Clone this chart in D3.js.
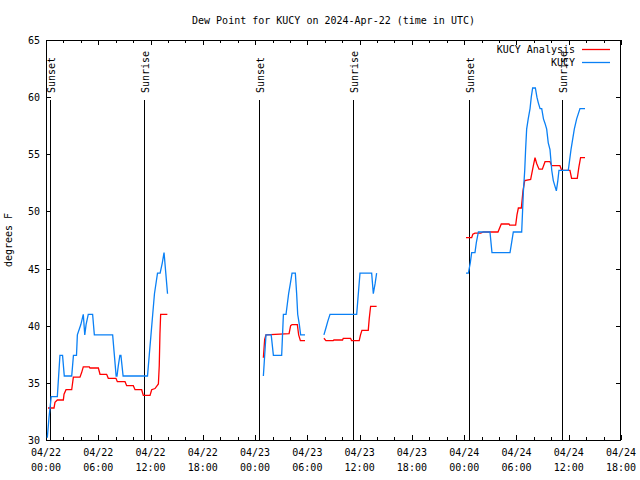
<!DOCTYPE html>
<html><head><meta charset="utf-8">
<script src="https://cdn.jsdelivr.net/npm/d3@7"></script>
<style>
body{margin:0;background:#fff}
text{font-family:"DejaVu Sans Mono",monospace;font-size:10px;fill:#000}
</style>
</head><body><svg id="c" width="640" height="480"></svg>
<script>
const title = "Dew Point for KUCY on 2024-Apr-22 (time in UTC)";
const yLabel = "degrees F";
const seriesNames = ["KUCY Analysis", "KUCY"];
const seriesColors = ["#ff0000", "#0a80f5"];
const startTime = "2024-04-22T00:00:00Z";
const endHours = 66;
const yDomain = [30, 65];
const yTicks = [30, 35, 40, 45, 50, 55, 60, 65];
const xMajorHours = [0, 6, 12, 18, 24, 30, 36, 42, 48, 54, 60, 66];
const sunHours = [0.47, 11.23, 24.48, 35.22, 48.5, 59.2];
const sunLabels = ["Sunset", "Sunrise", "Sunset", "Sunrise", "Sunset", "Sunrise"];

// KUCY Analysis (hours since start, value F); null = gap
const analysisHours = [
 0.23,0.92,1.03,1.3,1.99,2.07,2.3,2.95,3.14,3.9,4.09,4.28,4.97,5.05,6.01,6.2,6.96,7.15,8.03,8.19,9.07,9.26,10.02,10.22,10.98,11.17,11.94,12.13,12.51,12.9,13.0,13.08,13.16,13.93,
 14.0,
 24.95,25.1,25.25,27.9,28.08,28.24,28.85,29.0,29.2,29.73,
 30.5,
 31.9,32.13,32.97,33.05,34.04,34.12,34.96,35.07,35.95,36.1,36.26,36.99,37.1,37.26,37.95,
 40.0,
 48.21,48.86,48.99,49.24,49.9,50.2,51.88,52.26,53.14,53.22,53.91,54.06,54.22,54.56,54.75,54.95,55.63,55.94,56.13,56.32,56.59,56.97,57.28,57.85,58.04,58.99,59.19,60.14,60.33,60.98,61.17,61.36,61.87];
const analysisValues = [
 32.8,32.8,33.3,33.5,33.5,34.0,34.4,34.4,35.5,35.5,35.9,36.4,36.4,36.3,36.3,35.75,35.75,35.4,35.4,35.1,35.1,34.75,34.75,34.4,34.4,33.9,33.9,34.4,34.5,34.9,36.5,39.3,41.0,41.0,
 null,
 37.2,38.8,39.2,39.3,40.0,40.1,40.1,39.2,38.7,38.7,
 null,
 38.9,38.7,38.7,38.75,38.75,38.9,38.9,38.7,38.7,39.2,39.6,39.6,40.6,41.7,41.7,
 null,
 47.7,47.7,48.0,48.1,48.1,48.2,48.2,48.9,48.9,48.8,48.8,49.7,50.3,50.3,51.8,52.7,52.8,54.0,54.7,54.2,53.7,53.7,54.35,54.35,54.0,54.0,53.6,53.6,52.9,52.9,53.9,54.7,54.7];

// KUCY observations
const kucyHours = [
 0.15,0.35,0.6,1.3,1.45,1.6,1.9,2.1,2.3,2.95,3.15,3.5,3.6,4.0,4.28,4.45,4.6,4.85,5.35,5.55,7.65,7.85,8.05,8.15,8.3,8.48,8.6,8.85,11.65,11.85,12.05,12.25,12.45,12.8,13.1,13.35,13.55,13.75,13.95,
 14.0,
 24.95,25.1,25.25,25.85,26.1,27.05,27.15,27.25,27.55,27.7,27.85,28.05,28.24,28.62,28.77,28.89,29.08,29.23,29.73,
 30.5,
 31.9,32.13,32.35,32.6,35.66,35.85,36.04,37.38,37.57,37.78,37.95,
 40.0,
 48.21,48.48,48.7,48.86,49.24,49.4,49.63,50.96,51.19,53.26,53.45,53.64,54.6,54.7,54.8,54.95,55.05,55.17,55.35,55.56,55.7,55.86,56.17,56.35,56.51,56.71,56.9,57.1,57.28,57.47,57.65,57.85,58.05,58.23,58.58,58.75,58.88,59.95,60.26,60.45,60.64,60.91,61.29,61.87];
const kucyValues = [
 30.2,32.0,33.8,33.8,35.6,37.4,37.4,35.6,35.6,35.6,37.4,37.4,39.2,40.1,41.0,39.2,40.1,41.0,41.0,39.2,39.2,37.4,35.6,35.6,36.5,37.4,37.4,35.6,35.6,37.4,39.2,41.0,42.8,44.6,44.6,45.5,46.4,44.6,42.8,
 null,
 35.6,37.4,39.2,39.2,37.4,37.4,39.2,41.0,41.0,41.9,42.8,43.7,44.6,44.6,42.8,41.0,40.1,39.2,39.2,
 null,
 39.2,39.8,40.4,41.0,41.0,42.8,44.6,44.6,42.8,43.7,44.6,
 null,
 44.6,44.6,45.5,46.4,46.4,47.3,48.2,48.2,46.4,46.4,47.3,48.2,48.2,50.0,51.8,53.6,55.4,57.2,58.1,59.0,60.0,60.8,60.8,60.0,59.5,59.0,59.0,58.1,57.7,57.2,56.0,55.4,53.6,52.7,51.8,52.7,53.6,53.6,55.4,56.3,57.2,58.1,59.0,59.0];

const svg = d3.select("#c");
const t0 = new Date(startTime);
const hToDate = h => new Date(t0.getTime() + h * 3600e3);
const x = d3.scaleUtc().domain([t0, hToDate(endHours)]).range([46, 621]);
const y = d3.scaleLinear().domain(yDomain).range([440, 40]);
const L = 46, R = 621, T = 40, B = 440;

// title
svg.append("text").attr("x", (L + R) / 2).attr("y", 24).attr("text-anchor", "middle").text(title);
// y label
svg.append("text").attr("transform", "translate(12,240) rotate(-90)").attr("text-anchor", "middle").text(yLabel);

const g = svg.append("g").attr("shape-rendering", "crispEdges");
// x ticks (major every 6h, minor every 2h), bottom and top, inward
const minorHours = d3.range(0, endHours + 1, 2).filter(h => h % 6 !== 0);
xMajorHours.forEach(h => {
  const xx = Math.round(x(hToDate(h))) + 0.5;
  g.append("line").attr("x1", xx).attr("x2", xx).attr("y1", B).attr("y2", B - 5).attr("stroke", "#000");
  g.append("line").attr("x1", xx).attr("x2", xx).attr("y1", T).attr("y2", T + 5).attr("stroke", "#000");
  const d = hToDate(h);
  svg.append("text").attr("x", x(d)).attr("y", 456).attr("text-anchor", "middle").text(d3.utcFormat("%m/%d")(d));
  svg.append("text").attr("x", x(d)).attr("y", 471).attr("text-anchor", "middle").text(d3.utcFormat("%H:%M")(d));
});
minorHours.forEach(h => {
  const xx = Math.round(x(hToDate(h))) + 0.5;
  g.append("line").attr("x1", xx).attr("x2", xx).attr("y1", B).attr("y2", B - 3).attr("stroke", "#000");
  g.append("line").attr("x1", xx).attr("x2", xx).attr("y1", T).attr("y2", T + 3).attr("stroke", "#000");
});
// y ticks
yTicks.forEach(v => {
  const yy = Math.round(y(v)) + 0.5;
  g.append("line").attr("x1", L).attr("x2", L + 5).attr("y1", yy).attr("y2", yy).attr("stroke", "#000");
  g.append("line").attr("x1", R).attr("x2", R - 5).attr("y1", yy).attr("y2", yy).attr("stroke", "#000");
  svg.append("text").attr("x", 40).attr("y", y(v) + 4).attr("text-anchor", "end").text(v);
});

// sun lines
const sunTop = y(yDomain[0] + 0.85 * (yDomain[1] - yDomain[0]));
sunHours.forEach((h, i) => {
  const xx = Math.round(x(hToDate(h))) + 0.5;
  g.append("line").attr("x1", xx).attr("x2", xx).attr("y1", sunTop).attr("y2", B).attr("stroke", "#000");
  svg.append("text").attr("transform", `translate(${xx + 4},93) rotate(-90)`).attr("text-anchor", "start").text(sunLabels[i]);
});

// series
const line = d3.line().defined(d => d.v != null).x(d => x(d.t)).y(d => y(d.v));
const build = (hs, vs) => hs.map((h, i) => ({t: hToDate(h), v: vs[i]}));
const data = [build(analysisHours, analysisValues), build(kucyHours, kucyValues)];
data.forEach((d, i) => {
  svg.append("path").datum(d).attr("d", line).attr("fill", "none")
    .attr("stroke", seriesColors[i]).attr("stroke-width", 1.3).attr("stroke-linejoin", "miter");
});

// frame
g.append("rect").attr("x", L + 0.5).attr("y", T + 0.5).attr("width", R - L - 1).attr("height", B - T)
  .attr("fill", "none").attr("stroke", "#000");

// legend
seriesNames.forEach((n, i) => {
  const ly = 49 + i * 13;
  svg.append("text").attr("x", 575).attr("y", ly + 4).attr("text-anchor", "end").text(n);
  svg.append("line").attr("x1", 582).attr("x2", 610).attr("y1", ly + 0.5).attr("y2", ly + 0.5)
    .attr("stroke", seriesColors[i]).attr("stroke-width", 1.3);
});
</script></body></html>
